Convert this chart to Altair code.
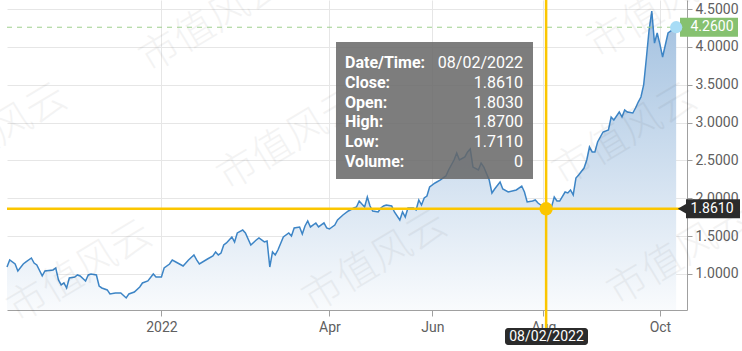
import altair as alt
import pandas as pd

# ---------------- data ----------------
day_index = [0, 1, 3, 4, 6, 7, 9, 10, 11, 13, 14, 17, 18, 19, 20, 21, 22, 23, 25, 26, 27, 29, 30, 31, 33,
             34, 35, 37, 38, 40, 42, 44, 45, 47, 49, 50, 52, 54, 55, 57, 58, 60, 61, 63, 65, 67, 69, 70, 71,
             74, 76, 77, 78, 79, 80, 81, 82, 83, 84, 85, 87, 88, 90, 92, 93, 95, 96, 97, 98, 99, 100, 102,
             104, 105, 106, 108, 109, 110, 111, 112, 114, 115, 117, 118, 119, 121, 122, 124, 126, 128, 129,
             130, 132, 133, 134, 135, 137, 138, 139, 140, 142, 143, 145, 146, 147, 148, 150, 151, 152, 153,
             154, 155, 156, 158, 160, 162, 163, 165, 166, 167, 169, 170, 171, 172, 174, 175, 176, 178, 179,
             180, 182, 183, 185, 188, 190, 191, 192, 194, 195, 196, 198, 199, 201, 202, 203, 204, 206, 207,
             208, 209, 210, 211, 213, 214, 215, 216, 217, 218, 220, 222, 223, 224, 226, 227, 228, 229, 231,
             232, 233, 234, 235, 236, 237, 238, 239, 240, 241, 242, 243, 244, 246, 247]
close = [1.092, 1.185, 1.132, 1.040, 1.132, 1.159, 1.211, 1.145, 1.119, 0.974, 1.040, 1.053, 1.079, 0.921,
         0.855, 0.881, 0.815, 0.947, 0.960, 0.987, 0.974, 0.908, 0.987, 1.000, 0.987, 0.841, 0.815, 0.789,
         0.736, 0.749, 0.749, 0.683, 0.736, 0.762, 0.828, 0.881, 0.908, 1.000, 0.960, 0.960, 1.079, 1.132,
         1.185, 1.145, 1.106, 1.185, 1.251, 1.185, 1.132, 1.198, 1.238, 1.291, 1.251, 1.277, 1.383, 1.410,
         1.449, 1.489, 1.423, 1.542, 1.581, 1.542, 1.383, 1.449, 1.476, 1.423, 1.436, 1.092, 1.291, 1.251,
         1.317, 1.489, 1.542, 1.502, 1.608, 1.621, 1.528, 1.634, 1.700, 1.621, 1.674, 1.621, 1.674, 1.608,
         1.594, 1.647, 1.713, 1.779, 1.832, 1.872, 1.885, 1.964, 1.885, 2.017, 1.898, 1.832, 1.819, 1.872,
         1.898, 1.911, 1.898, 1.819, 1.713, 1.819, 1.753, 1.872, 1.872, 1.845, 1.978, 1.911, 2.004, 2.030,
         2.149, 2.202, 2.242, 2.295, 2.374, 2.506, 2.598, 2.506, 2.546, 2.612, 2.651, 2.413, 2.374, 2.466,
         2.413, 2.242, 2.070, 2.123, 2.215, 2.123, 2.083, 2.110, 2.162, 2.083, 1.951, 1.964, 1.978, 1.938,
         1.885, 1.861, 1.885, 2.017, 1.964, 1.964, 2.083, 2.070, 2.110, 2.044, 2.268, 2.308, 2.400, 2.506,
         2.678, 2.612, 2.612, 2.744, 2.876, 2.902, 3.074, 3.034, 3.140, 3.074, 3.166, 3.140, 3.127, 3.193,
         3.272, 3.338, 3.497, 3.850, 4.223, 4.474, 4.051, 4.184, 4.038, 3.867, 4.025, 4.184, 4.236, 4.260]

tick_index = [57, 119, 157, 198, 241]
tick_labels = ["2022", "Apr", "Jun", "Aug", "Oct"]
y_ticks = [1.0, 1.5, 2.0, 2.5, 3.0, 3.5, 4.0, 4.5]

sel_index = 199
sel_date = "08/02/2022"
sel_close = 1.861
tip_fields = ["Date/Time:", "Close:", "Open:", "High:", "Low:", "Volume:"]
tip_values = ["08/02/2022", "1.8610", "1.8030", "1.8700", "1.7110", "0"]
watermark = "市值风云"

# ---------------- layout / style ----------------
W, H = 680, 310
FONT = "Roboto"
YELLOW = "#fbc600"
LABEL_C = "#606060"
GRID_C = "#e6e6e6"
AXIS_C = "#a0a0a0"

df = pd.DataFrame({"idx": day_index, "close": close})
df_sel = pd.DataFrame({"idx": [sel_index], "close": [sel_close]})
df_last = pd.DataFrame({"x0": [day_index[0]], "idx": [day_index[-1]], "close": [close[-1]]})
one = pd.DataFrame({"k": [0]})

xs = alt.Scale(domain=[0, 251], nice=False, zero=False)
ys = alt.Scale(domain=[0.524, 4.62], nice=False, zero=False)

label_expr = " : ".join(
    f"datum.value == {v} ? '{t}'" for v, t in zip(tick_index, tick_labels)
) + " : ''"

x_axis = alt.Axis(orient="bottom", values=tick_index, labelExpr=label_expr, title=None, grid=True,
                  gridColor=GRID_C, domainColor=AXIS_C, tickColor=AXIS_C, tickSize=6,
                  labelPadding=4, labelFont=FONT, labelFontSize=14, labelColor=LABEL_C)
y_axis = alt.Axis(orient="right", values=y_ticks, format=".4f", title=None, grid=True,
                  gridColor=GRID_C, domainColor=AXIS_C, tickColor=AXIS_C, tickSize=5,
                  labelPadding=3, labelFont=FONT, labelFontSize=14, labelColor=LABEL_C)

X = alt.X("idx:Q", scale=xs, axis=x_axis)
Y = alt.Y("close:Q", scale=ys, axis=y_axis, stack=None)

gradient = alt.Gradient(
    gradient="linear", x1=0, y1=0, x2=0, y2=1,
    stops=[alt.GradientStop(color="#a3c1e0", offset=0),
           alt.GradientStop(color="#f9fbfd", offset=1)])

layers = []

area = alt.Chart(df).mark_area(color=gradient).encode(x=X, y=Y, y2=alt.value(H))
line = alt.Chart(df).mark_line(color="#3d85c6", strokeWidth=1.5).encode(x=X, y=Y)
layers += [area, line]

# watermarks (decoration)
wm_pos = [(205, 22), (653, 8), (-12, 135), (283, 140), (618, 135), (368, 262), (73, 272), (673, 255)]
for (px, py) in wm_pos:
    layers.append(alt.Chart(one).mark_text(
        text=watermark, font="Noto Sans CJK SC", fontSize=40, fontWeight=300, angle=329,
        color="#000000", opacity=0.045, align="center", baseline="middle"
    ).encode(x=alt.value(px), y=alt.value(py)))

# dashed last-value line
layers.append(alt.Chart(df_last).mark_rule(color="#9fd08f", strokeDash=[5, 5], strokeWidth=1).encode(
    x=alt.X("x0:Q", scale=xs, axis=x_axis), x2="idx:Q", y=Y))

# tooltip box
layers.append(alt.Chart(one).mark_rect(fill="#666666", opacity=0.85).encode(
    x=alt.value(329), x2=alt.value(526), y=alt.value(42), y2=alt.value(179)))
for i, (f, v) in enumerate(zip(tip_fields, tip_values)):
    yb = 68 + i * 19.8
    layers.append(alt.Chart(one).mark_text(
        text=f, font=FONT, fontSize=16, fontWeight="bold", color="white",
        align="left", baseline="alphabetic").encode(x=alt.value(338), y=alt.value(yb)))
    layers.append(alt.Chart(one).mark_text(
        text=v, font=FONT, fontSize=16, color="white",
        align="right", baseline="alphabetic").encode(x=alt.value(516), y=alt.value(yb)))

# crosshair
layers.append(alt.Chart(df_sel).mark_rule(color=YELLOW, strokeWidth=2.5).encode(
    x=alt.value(0), x2=alt.value(W), y=Y))
layers.append(alt.Chart(df_sel).mark_rule(color=YELLOW, strokeWidth=2.5).encode(
    x=X, y=alt.value(0), y2=alt.value(330)))
layers.append(alt.Chart(df_sel).mark_circle(color=YELLOW, size=180, opacity=1).encode(x=X, y=Y))

# bottom date label
layers.append(alt.Chart(one).mark_rect(fill="#2b2b2b", cornerRadius=3).encode(
    x=alt.value(498), x2=alt.value(581), y=alt.value(328), y2=alt.value(345)))
layers.append(alt.Chart(one).mark_text(
    text=sel_date, font=FONT, fontSize=14, color="white", align="center", baseline="middle"
).encode(x=alt.value(539.5), y=alt.value(337)))

# right value label (selected)
layers.append(alt.Chart(df_sel).mark_point(shape="triangle-left", filled=True, size=361,
                                           color="#2b2b2b", opacity=1).encode(x=alt.value(679), y=Y))
layers.append(alt.Chart(df_sel).mark_rule(color="#2b2b2b", strokeWidth=19).encode(
    x=alt.value(679), x2=alt.value(733), y=Y))
layers.append(alt.Chart(df_sel).mark_text(
    font=FONT, fontSize=14, color="white", align="center", baseline="middle"
).encode(x=alt.value(705), y=Y, text=alt.Text("close:Q", format=".4f")))

# last value label
layers.append(alt.Chart(df_last).mark_rule(color="#86c170", strokeWidth=19).encode(
    x=alt.value(673), x2=alt.value(731), y=Y))
layers.append(alt.Chart(df_last).mark_text(
    font=FONT, fontSize=14, color="white", align="center", baseline="middle"
).encode(x=alt.value(705), y=Y, text=alt.Text("close:Q", format=".4f")))
layers.append(alt.Chart(df_last).mark_circle(color="#a8dcf6", size=150, opacity=1).encode(x=X, y=Y))

chart = alt.layer(*layers).properties(
    width=W, height=H,
    autosize=alt.AutoSizeParams(type="none"),
    padding={"left": 7, "top": 0, "right": 55, "bottom": 41},
    background="white",
).configure_view(strokeWidth=0)

chart.save("out.html", embed_options={"renderer": "svg", "actions": False})
